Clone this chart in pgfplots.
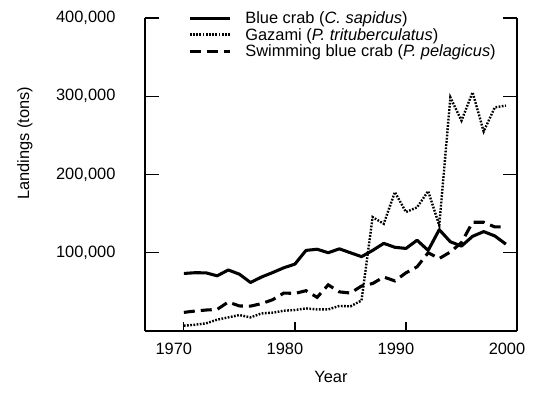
\documentclass[border=0pt]{standalone}
\usepackage{fontspec}
\setmainfont{Liberation Sans}
\usepackage{pgfplots}
\pgfplotsset{compat=1.18}
\begin{document}
\begin{tikzpicture}
\useasboundingbox (-108.75pt,-48pt) rectangle (291.75pt,248.25pt);
\begin{axis}[
  at={(0pt,0pt)}, anchor=south west,
  scale only axis, width=279pt, height=234.75pt,
  xmin=1966.5, xmax=2000, ymin=0, ymax=400000,
  axis x line=bottom, axis y line=box,
  x axis line style={-}, y axis line style={-},
  axis line style={line width=0.9pt, black},
  tick align=inside,
  xtick={1970,1980,1990,2000}, ytick={100000,200000,300000,400000},
  xtick pos=bottom, ytick pos=both,
  minor tick num=0,
  major tick style={line width=0.9pt, black},
  xtick style={/pgfplots/major tick length=6.75pt},
  ytick style={/pgfplots/major tick length=10.5pt},
  scaled y ticks=false,
  /pgf/number format/assume math mode=true,
  font=\fontsize{12.3}{14}\selectfont,
  x tick label style={/pgf/number format/1000 sep={}, inner sep=0pt, anchor=north, yshift=-8.5pt, xshift=-7.5pt},
  y tick label style={/pgf/number format/fixed, /pgf/number format/precision=0, /pgf/number format/1000 sep={,}, inner sep=0pt, anchor=east, xshift=-22pt},
  xlabel={Year}, ylabel={Landings (tons)},
  xlabel style={at={(axis description cs:0.5,-0.147)}, anchor=center},
  ylabel style={at={(axis description cs:-0.323,0.6)}, anchor=center},
  legend style={at={(axis description cs:0.1156,1.021)}, anchor=north west, draw=none, fill=none, inner sep=0pt, row sep=0pt, column sep=10.5pt, nodes={inner sep=0pt, text height=9pt, text depth=3.4pt, anchor=base west}},
  legend cell align=left,
  legend image code/.code={\draw[#1] (0pt,4.2pt) -- (30pt,4.2pt);},
]
\addplot[black, line width=2.3pt, line join=round, mark=none] coordinates {
(1970,73500) (1971,74500) (1972,74300) (1973,70500) (1974,78000) (1975,72600)
(1976,62000) (1977,69000) (1978,74700) (1979,80800) (1980,85500) (1981,103000)
(1982,104500) (1983,100000) (1984,105000) (1985,100000) (1986,95000) (1987,103000)
(1988,112000) (1989,107000) (1990,105500) (1991,116000) (1992,103000) (1993,129500)
(1994,114000) (1995,108500) (1996,121000) (1997,127000) (1998,121500) (1999,111000)
};
\addlegendentry{Blue crab (\textit{C. sapidus})}
\addplot[black, line width=1.8pt, dash pattern=on 1.3pt off 1.1pt, mark=none] coordinates {
(1970,6800) (1971,8000) (1972,9800) (1973,14500) (1974,17400) (1975,20400)
(1976,17400) (1977,22500) (1978,23400) (1979,25900) (1980,26800) (1981,28900)
(1982,27600) (1983,27600) (1984,32000) (1985,31500) (1986,39000) (1987,145600)
(1988,137000) (1989,177500) (1990,152000) (1991,158000) (1992,178800) (1993,135000)
(1994,298500) (1995,268800) (1996,305000) (1997,255000) (1998,285800) (1999,288000)
};
\addlegendentry{Gazami (\textit{P. trituberculatus})}
\addplot[black, line width=2.3pt, dash pattern=on 8.25pt off 4.5pt, mark=none] coordinates {
(1970,23800) (1971,25500) (1972,26800) (1973,27600) (1974,37000) (1975,32000)
(1976,31800) (1977,35000) (1978,40000) (1979,48500) (1980,48000) (1981,51500)
(1982,43000) (1983,59000) (1984,50000) (1985,48500) (1986,57500) (1987,60700)
(1988,69000) (1989,64000) (1990,74300) (1991,82000) (1992,100000) (1993,92600)
(1994,101000) (1995,113000) (1996,139000) (1997,139000) (1998,133000) (1999,133000)
};
\addlegendentry{Swimming blue crab (\textit{P. pelagicus})}
\end{axis}
\end{tikzpicture}
\end{document}
